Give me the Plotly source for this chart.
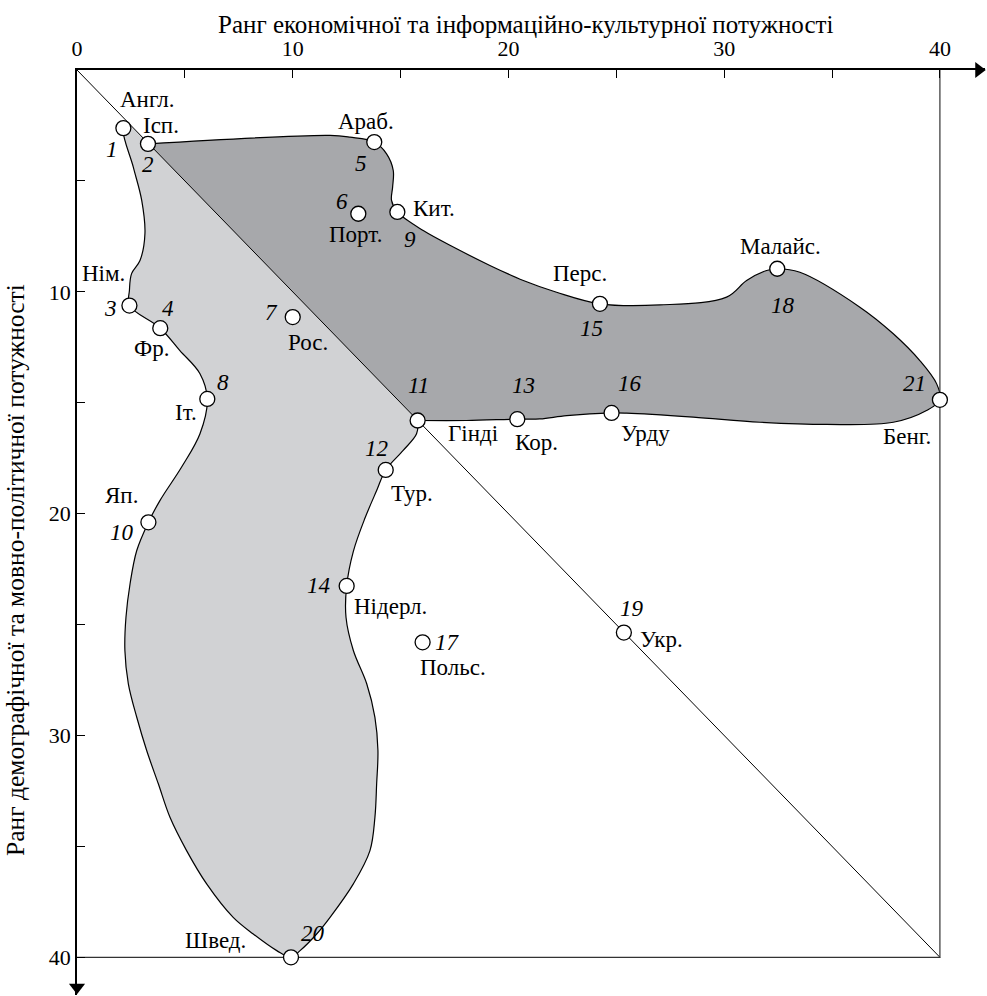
import plotly.graph_objects as go

# ---------------- data ----------------
lang_names = ["Англ.", "Ісп.", "Нім.", "Фр.", "Араб.", "Порт.", "Рос.", "Іт.", "Кит.", "Яп.",
              "Гінді", "Тур.", "Кор.", "Нідерл.", "Перс.", "Урду", "Польс.", "Малайс.", "Укр.",
              "Швед.", "Бенг."]
lang_numbers = list(range(1, 22))
econ_rank = [2.15, 3.29, 2.43, 3.86, 13.78, 13.04, 10.0, 6.04, 14.85, 3.31,
             15.79, 14.31, 20.41, 12.5, 24.24, 24.78, 16.02, 32.46, 25.35, 9.92, 40.0]
demo_rank = [2.62, 3.33, 10.62, 11.64, 3.25, 6.48, 11.14, 14.83, 6.40, 20.39,
             15.8, 18.03, 15.74, 23.26, 10.54, 15.46, 25.8, 8.96, 25.36, 40.0, 14.87]

# outline of the dark group (above the diagonal)
dark_x = [3.29, 11.73, 12.65, 13.78, 14.35, 14.66, 14.63, 14.58, 14.85, 16.05, 17.6, 19.14,
          20.69, 22.23, 24.24, 27.02, 30.11, 31.04, 31.97, 32.46, 33.51, 36.29, 37.84, 39.07,
          39.85, 40.0, 39.38, 37.84, 34.75, 31.66, 28.57, 25.48, 24.78, 22.7, 21.46, 20.41,
          18.06, 15.8]
dark_y = [3.33, 2.95, 3.03, 3.25, 3.78, 4.53, 5.28, 5.88, 6.40, 7.24, 8.06, 8.81,
          9.49, 10.02, 10.54, 10.59, 10.24, 9.49, 9.04, 8.96, 9.12, 10.69, 11.89, 13.1,
          14.15, 14.87, 15.35, 15.88, 15.98, 15.88, 15.65, 15.47, 15.46, 15.58, 15.73, 15.74,
          15.8, 15.8]

# outline of the light group (below the diagonal)
light_x = [15.8, 15.74, 15.12, 14.31, 13.89, 13.35, 12.81, 12.5, 12.47, 12.81, 13.43, 13.81,
           13.95, 13.89, 13.81, 13.58, 12.81, 11.73, 11.11, 10.34, 9.92, 9.26, 8.17, 7.24,
           6.01, 5.08, 4.31, 3.77, 3.23, 2.77, 2.38, 2.22, 2.27, 2.46, 2.77, 3.31, 3.85,
           4.85, 5.7, 6.04, 5.7, 4.77, 3.86, 2.43, 2.43, 2.53, 2.92, 3.15, 3.0, 2.61, 2.15,
           2.45]
light_y = [15.8, 16.4, 17.15, 18.03, 18.96, 20.2, 21.7, 23.26, 24.67, 26.17, 27.67, 29.18,
           30.68, 32.18, 33.69, 35.19, 36.69, 38.2, 38.95, 39.7, 40.0, 39.7, 38.95, 38.2,
           36.69, 35.19, 33.69, 32.18, 30.68, 29.18, 27.67, 26.17, 24.67, 23.16, 21.66, 20.39,
           19.4, 17.9, 16.4, 14.83, 13.69, 12.65, 11.64, 10.62, 9.94, 9.18, 8.59, 7.37, 5.88,
           4.38, 2.62, 2.45]

x_ticks = [0, 5, 10, 15, 20, 25, 30, 35, 40]
x_tick_text = ["0", "", "10", "", "20", "", "30", "", "40"]
y_ticks = [5, 10, 15, 20, 25, 30, 35, 40]
y_tick_text = ["", "10", "", "20", "", "30", "", "40"]
axis_max = 40
x_title = "Ранг економічної та інформаційно-культурної потужності"
y_title = "Ранг демографічної та мовно-політичної потужності"

# ---------------- label placement (pixel offsets from each point) ----------------
name_offsets = [(24, -29), (13, -18), (-26, -32), (-9, 20), (-8, -21), (-3, 21), (15, 25),
                (-21, 14), (37, -3), (-27, -27), (55, 13), (26, 24), (19, 23), (44, 21),
                (-20, -30), (34, 21), (30, 25), (3, -22), (38, 7), (-76, -17), (-33, 37)]
num_offsets = [(-11, 21), (0, 21), (-19, 3), (8, -20), (-13, 21), (-16, -12), (-21, -5),
               (16, -16), (13, 28), (-26, 10), (1, -35), (-9, -21), (6, -34), (-28, 0),
               (-8, 25), (18, -29), (25, 0), (6, 37), (8, -24), (22, -24), (-25, -16)]

FONT = "Liberation Serif"
DARK = "#a7a8ab"
LIGHT = "#d1d2d4"
LABEL_SIZE = 23

fig = go.Figure()

fig.add_trace(go.Scatter(x=dark_x, y=dark_y, mode="lines", fill="toself", fillcolor=DARK,
                         line=dict(color="black", width=1.2, shape="spline", smoothing=1.0),
                         hoverinfo="skip", showlegend=False))
fig.add_trace(go.Scatter(x=light_x, y=light_y, mode="lines", fill="toself", fillcolor=LIGHT,
                         line=dict(color="black", width=1.2, shape="spline", smoothing=1.0),
                         hoverinfo="skip", showlegend=False))

# diagonal and frame
fig.add_trace(go.Scatter(x=[0, axis_max], y=[0, axis_max], mode="lines",
                         line=dict(color="black", width=1), hoverinfo="skip", showlegend=False))
fig.add_trace(go.Scatter(x=[0, axis_max, axis_max], y=[axis_max, axis_max, 0], mode="lines",
                         line=dict(color="#333", width=1.2), hoverinfo="skip", showlegend=False))

# arrow heads on the axes
fig.add_trace(go.Scatter(x=[41.8], y=[0], mode="markers", cliponaxis=False,
                         marker=dict(symbol="triangle-right", size=14, color="black"),
                         hoverinfo="skip", showlegend=False))
fig.add_trace(go.Scatter(x=[0], y=[41.35], mode="markers", cliponaxis=False,
                         marker=dict(symbol="triangle-down", size=14, color="black"),
                         hoverinfo="skip", showlegend=False))

# points
fig.add_trace(go.Scatter(x=econ_rank, y=demo_rank, mode="markers", cliponaxis=False,
                         marker=dict(size=15, color="white", line=dict(color="black", width=1.3)),
                         text=lang_names, showlegend=False))

annotations = []
for i, nm in enumerate(lang_names):
    dx, dy = name_offsets[i]
    annotations.append(dict(x=econ_rank[i], y=demo_rank[i], text=nm, showarrow=False,
                            xshift=dx, yshift=-dy, xanchor="center", yanchor="middle",
                            font=dict(family=FONT, size=LABEL_SIZE, color="black")))
    dx, dy = num_offsets[i]
    annotations.append(dict(x=econ_rank[i], y=demo_rank[i], text=f"<i>{lang_numbers[i]}</i>",
                            showarrow=False, xshift=dx, yshift=-dy, xanchor="center",
                            yanchor="middle", font=dict(family=FONT, size=LABEL_SIZE, color="black")))

# plot area is 908 x 925 px, starting at (77, 70)
annotations.append(dict(xref="paper", yref="paper", x=0.4934, y=1 + (70 - 24.5) / 925,
                        text=x_title, showarrow=False, xanchor="center", yanchor="middle",
                        borderpad=0, font=dict(family=FONT, size=25, color="black")))
annotations.append(dict(xref="paper", yref="paper", x=(15.5 - 77) / 908, y=0.4589,
                        text=y_title, showarrow=False, xanchor="center", yanchor="middle",
                        textangle=-90, borderpad=0,
                        font=dict(family=FONT, size=25.5, color="black")))

fig.update_layout(
    width=987, height=996,
    margin=dict(l=77, r=2, t=70, b=1),
    paper_bgcolor="white", plot_bgcolor="white",
    annotations=annotations,
    xaxis=dict(range=[0, 42.09], side="top", showgrid=False, zeroline=False,
               showline=True, linecolor="black", linewidth=1.5,
               ticks="inside", ticklen=8, tickwidth=1.2, tickcolor="black",
               tickvals=x_ticks, ticktext=x_tick_text, ticklabelstandoff=3,
               tickfont=dict(family=FONT, size=22, color="black")),
    yaxis=dict(range=[41.7, 0], showgrid=False, zeroline=False,
               showline=True, linecolor="black", linewidth=1.5,
               ticks="inside", ticklen=8, tickwidth=1.2, tickcolor="black",
               tickvals=y_ticks, ticktext=y_tick_text,
               tickfont=dict(family=FONT, size=22, color="black")),
)

fig.write_html("out.html", config={"displayModeBar": False},
               post_script="document.body.style.margin='0px';")
